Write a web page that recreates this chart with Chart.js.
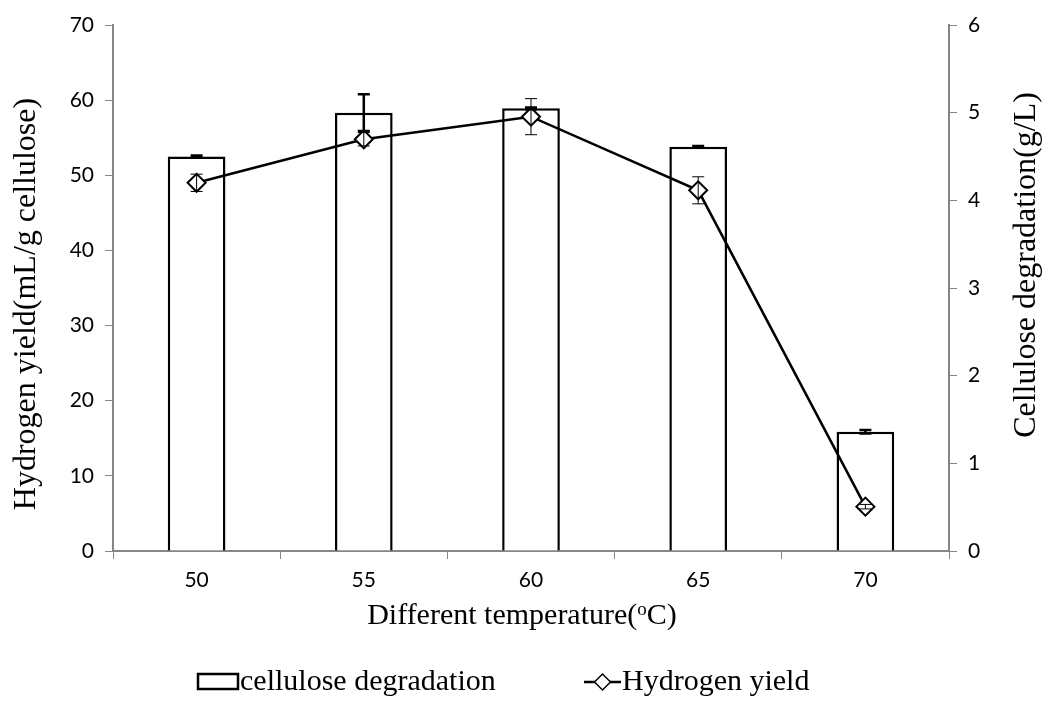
<!DOCTYPE html>
<html>
<head>
<meta charset="utf-8">
<script src="https://cdn.jsdelivr.net/npm/chart.js@4.4.1/dist/chart.umd.min.js"></script>
<style>
  html, body { margin: 0; background: #fff; }
  #wrap { width: 1051px; height: 725px; position: relative; }
</style>
</head>
<body>
<div id="wrap"><canvas id="chart"></canvas></div>
<script>
// temperatures on the x axis
const temperatures = ["50", "55", "60", "65", "70"];

// cellulose degradation (g/L), right axis, with std. deviation
const celluloseDegradation = [4.50, 5.00, 5.05, 4.61, 1.36];
const celluloseError = [0.01, 0.21, 0.01, 0.01, 0.02];

// hydrogen yield (mL/g cellulose), left axis, with std. deviation
const hydrogenYield = [49.0, 54.8, 57.8, 48.0, 5.9];
const hydrogenError = [1.15, 0.9, 2.4, 1.8, 0.3];

// axis ranges
const yieldTicks = { min: 0, max: 70, step: 10 };
const degradationTicks = { min: 0, max: 6, step: 1 };

const AXIS_GREY = "#868686";
const SERIF = "'Liberation Serif', 'Times New Roman', serif";
const SANS = "Lato, 'Open Sans', sans-serif";
const TITLE_SIZE = 30;
const SIDE_TITLE_SIZE = 32;

// error bars for both datasets
const errorBars = {
  id: "errorBars",
  afterDatasetsDraw(chart) {
    const ctx = chart.ctx;
    const sets = [
      { index: 1, errors: celluloseError, scale: "y1", width: 2.5, cap: 12 },
      { index: 0, errors: hydrogenError, scale: "y", width: 1, cap: 12 },
    ];
    ctx.save();
    ctx.strokeStyle = "#000";
    sets.forEach((s) => {
      const meta = chart.getDatasetMeta(s.index);
      const values = chart.data.datasets[s.index].data;
      const scale = chart.scales[s.scale];
      ctx.lineWidth = s.width;
      meta.data.forEach((el, i) => {
        const x = el.x;
        const top = scale.getPixelForValue(values[i] + s.errors[i]);
        const bottom = scale.getPixelForValue(values[i] - s.errors[i]);
        ctx.beginPath();
        ctx.moveTo(x, top);
        ctx.lineTo(x, bottom);
        ctx.moveTo(x - s.cap / 2, top);
        ctx.lineTo(x + s.cap / 2, top);
        ctx.moveTo(x - s.cap / 2, bottom);
        ctx.lineTo(x + s.cap / 2, bottom);
        ctx.stroke();
      });
    });
    ctx.restore();
  },
};

function diamond(ctx, x, y, r) {
  ctx.beginPath();
  ctx.moveTo(x - r, y);
  ctx.lineTo(x, y - r);
  ctx.lineTo(x + r, y);
  ctx.lineTo(x, y + r);
  ctx.closePath();
  ctx.fillStyle = "#fff";
  ctx.fill();
  ctx.stroke();
}

// axis titles (serif, vertical ones read bottom to top) and the legend row
const titlesAndLegend = {
  id: "titlesAndLegend",
  afterDraw(chart) {
    const ctx = chart.ctx;
    ctx.save();
    ctx.fillStyle = "#000";
    ctx.strokeStyle = "#000";
    ctx.font = SIDE_TITLE_SIZE + "px " + SERIF;
    ctx.textBaseline = "middle";
    ctx.textAlign = "center";

    ctx.save();
    ctx.translate(27, 304);
    ctx.rotate(-Math.PI / 2);
    ctx.fillText("Hydrogen yield(mL/g cellulose)", 0, 0);
    ctx.restore();

    ctx.save();
    ctx.translate(1027, 265);
    ctx.rotate(-Math.PI / 2);
    ctx.fillText("Cellulose degradation(g/L)", 0, 0);
    ctx.restore();

    // x title with superscript "o"
    const partA = "Different temperature(";
    const sup = "o";
    const partB = "C)";
    const mainFont = TITLE_SIZE + "px " + SERIF;
    const supFont = Math.round(TITLE_SIZE * 0.62) + "px " + SERIF;
    ctx.font = mainFont;
    const wA = ctx.measureText(partA).width;
    const wB = ctx.measureText(partB).width;
    ctx.font = supFont;
    const wS = ctx.measureText(sup).width;
    let x = 522 - (wA + wS + wB) / 2;
    const base = 624;
    ctx.textAlign = "left";
    ctx.textBaseline = "alphabetic";
    ctx.font = mainFont;
    ctx.fillText(partA, x, base);
    x += wA;
    ctx.font = supFont;
    ctx.fillText(sup, x, base - 9);
    x += wS;
    ctx.font = mainFont;
    ctx.fillText(partB, x, base);

    // legend
    const ly = 682;
    ctx.font = mainFont;
    ctx.textBaseline = "middle";
    ctx.lineWidth = 2.5;
    ctx.strokeRect(198, ly - 8, 40, 15);
    ctx.fillText("cellulose degradation", 240, ly);

    ctx.beginPath();
    ctx.moveTo(584, ly);
    ctx.lineTo(621, ly);
    ctx.stroke();
    ctx.lineWidth = 1.5;
    diamond(ctx, 602.5, ly, 8);
    ctx.fillStyle = "#000";
    ctx.fillText("Hydrogen yield", 622, ly);
    ctx.restore();
  },
};

const tickFont = { family: SANS, size: 21 };

new Chart(document.getElementById("chart"), {
  type: "bar",
  data: {
    labels: temperatures,
    datasets: [
      {
        type: "line",
        label: "Hydrogen yield",
        data: hydrogenYield,
        yAxisID: "y",
        order: 0,
        borderColor: "#000",
        borderWidth: 2.5,
        tension: 0,
        pointStyle: "rectRot",
        pointRadius: 9,
        pointBackgroundColor: "#fff",
        pointBorderColor: "#000",
        pointBorderWidth: 2,
      },
      {
        type: "bar",
        label: "cellulose degradation",
        data: celluloseDegradation,
        yAxisID: "y1",
        order: 1,
        backgroundColor: "#fff",
        borderColor: "#000",
        borderWidth: 2.5,
        categoryPercentage: 1,
        barPercentage: 0.345,
      },
    ],
  },
  options: {
    responsive: true,
    maintainAspectRatio: false,
    animation: false,
    layout: { padding: { top: 25, left: 0, right: 0, bottom: 0 } },
    plugins: {
      legend: { display: false },
      tooltip: { enabled: false },
    },
    scales: {
      x: {
        offset: true,
        grid: {
          offset: true,
          drawOnChartArea: false,
          tickLength: 8,
          color: AXIS_GREY,
        },
        border: { color: AXIS_GREY, width: 2 },
        ticks: { font: tickFont, color: "#000", padding: 9 },
        afterFit(scale) {
          scale.height = 174;
        },
      },
      y: {
        position: "left",
        min: yieldTicks.min,
        max: yieldTicks.max,
        ticks: { stepSize: yieldTicks.step, font: tickFont, color: "#000", padding: 11 },
        grid: { drawOnChartArea: false, tickLength: 8, color: AXIS_GREY },
        border: { color: AXIS_GREY, width: 2 },
        afterFit(scale) {
          scale.width = 113;
        },
      },
      y1: {
        position: "right",
        min: degradationTicks.min,
        max: degradationTicks.max,
        ticks: { stepSize: degradationTicks.step, font: tickFont, color: "#000", padding: 11 },
        grid: { drawOnChartArea: false, tickLength: 8, color: AXIS_GREY },
        border: { color: AXIS_GREY, width: 2 },
        afterFit(scale) {
          scale.width = 102;
        },
      },
    },
  },
  plugins: [errorBars, titlesAndLegend],
});
</script>
</body>
</html>
